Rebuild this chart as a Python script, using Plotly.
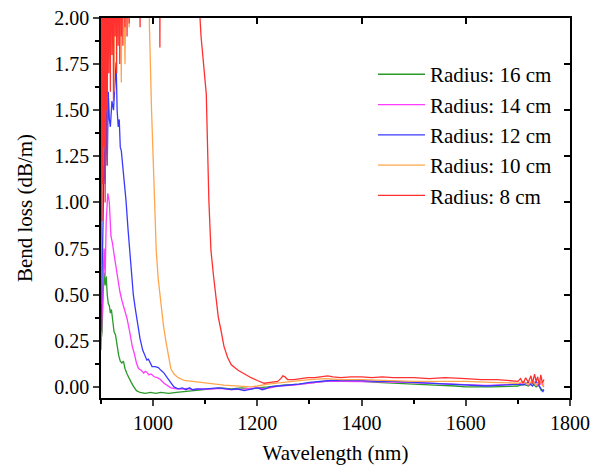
import plotly.graph_objects as go

# ---------------- data ----------------
wl_16 = [900, 902, 904, 906, 908, 910, 912, 914, 916, 918, 920, 922, 925, 928, 931, 934, 937, 940, 943, 946,
         950, 954, 958, 963, 968, 975, 985, 995, 1005, 1015, 1030, 1045, 1060, 1075, 1090, 1110, 1130, 1150,
         1170, 1190, 1200, 1220, 1250, 1280, 1300, 1330, 1360, 1400, 1430, 1460, 1500, 1540, 1580, 1600, 1650,
         1700, 1710, 1720, 1728, 1735, 1740, 1745, 1750]
loss_16 = [0.25, 0.30, 0.50, 0.62, 0.55, 0.60, 0.50, 0.45, 0.44, 0.40, 0.42, 0.38, 0.30, 0.28, 0.22, 0.17, 0.14, 0.13, 0.14, 0.10,
           0.07, 0.045, 0.025, 0.0, -0.02, -0.03, -0.035, -0.03, -0.035, -0.03, -0.035, -0.03, -0.025, -0.02, -0.015, -0.01, -0.005, -0.01,
           -0.005, -0.01, -0.005, 0.0, 0.01, 0.015, 0.02, 0.03, 0.03, 0.03, 0.025, 0.02, 0.015, 0.01, 0.005, 0.0, 0.0,
           0.005, 0.015, 0.005, 0.02, 0.0, 0.01, -0.02, -0.015]

wl_14 = [900, 903, 906, 908, 910, 913, 916, 919, 922, 925, 928, 932, 936, 940, 945, 950, 955, 960, 964, 968,
         972, 977, 982, 985, 988, 992, 996, 1002, 1008, 1014, 1021, 1028, 1034, 1045, 1056, 1065, 1075, 1090,
         1110, 1130, 1150, 1175, 1190, 1200, 1215, 1240, 1270, 1300, 1330, 1360, 1400, 1440, 1480, 1520, 1560,
         1600, 1640, 1680, 1700, 1712, 1722, 1730, 1738, 1745, 1750]
loss_14 = [0.20, 0.50, 0.75, 0.60, 0.90, 1.05, 1.00, 0.82, 0.78, 0.72, 0.66, 0.60, 0.52, 0.47, 0.42, 0.37, 0.30, 0.22, 0.18, 0.13,
           0.10, 0.09, 0.075, 0.085, 0.08, 0.065, 0.07, 0.055, 0.05, 0.04, 0.02, 0.005, -0.005, -0.01, -0.012, -0.008, -0.015, -0.01,
           -0.012, -0.008, -0.015, -0.012, -0.01, -0.005, -0.01, 0.005, 0.01, 0.02, 0.03, 0.03, 0.03, 0.028, 0.025, 0.02, 0.015,
           0.01, 0.008, 0.012, 0.015, 0.025, 0.01, 0.03, 0.005, 0.02, 0.0]

wl_12 = [900, 902, 904, 906, 908, 910, 912, 914, 916, 918, 921, 924, 927, 929, 931, 933, 935, 937, 939, 942,
         945, 948, 952, 955, 958, 962, 966, 971, 975, 980, 985, 988, 991, 994, 998, 1004, 1010, 1015, 1021,
         1027, 1034, 1040, 1048, 1056, 1063, 1070, 1076, 1085, 1095, 1110, 1125, 1140, 1150, 1160, 1175, 1190,
         1200, 1210, 1225, 1240, 1260, 1280, 1300, 1320, 1340, 1360, 1380, 1400, 1430, 1460, 1500, 1540, 1580,
         1600, 1640, 1670, 1700, 1710, 1720, 1728, 1735, 1742, 1748, 1750]
loss_12 = [0.30, 0.55, 0.90, 1.30, 1.10, 1.50, 1.20, 1.60, 1.45, 1.41, 1.55, 1.50, 1.65, 1.76, 1.50, 1.41, 1.45, 1.30, 1.28, 1.20,
           1.10, 1.01, 0.85, 0.75, 0.65, 0.50, 0.42, 0.33, 0.26, 0.20, 0.16, 0.145, 0.15, 0.13, 0.11, 0.11, 0.105, 0.09, 0.075,
           0.05, 0.02, 0.0, -0.01, -0.005, -0.015, -0.005, -0.015, -0.01, -0.012, -0.01, -0.005, -0.01, -0.015, -0.01, -0.02, -0.01,
           -0.005, -0.015, 0.0, 0.005, 0.01, 0.015, 0.025, 0.03, 0.035, 0.035, 0.035, 0.035, 0.03, 0.03, 0.025, 0.02, 0.015,
           0.01, 0.005, 0.01, 0.015, 0.01, 0.025, 0.005, 0.03, 0.0, -0.025, -0.015]

wl_10 = [900, 902, 904, 906, 908, 910, 913, 915, 918, 920, 925, 927, 932, 934, 939, 941, 946, 948, 952, 954,
         956, 990, 993, 997, 1002, 1006, 1010, 1015, 1020, 1025, 1030, 1034, 1040, 1048, 1060, 1073, 1090, 1105,
         1120, 1136, 1160, 1188, 1200, 1220, 1250, 1280, 1300, 1330, 1360, 1400, 1450, 1500, 1550, 1600, 1650,
         1700, 1710, 1720, 1728, 1735, 1742, 1748, 1750]
loss_10 = [0.80, 1.90, 1.20, 3.00, 1.50, 3.00, 1.70, 3.00, 1.80, 3.00, 1.60, 3.00, 1.90, 3.00, 1.65, 3.00, 1.75, 3.00, 3.00, 1.95,
           3.00, 3.00, 1.95, 1.50, 1.01, 0.74, 0.58, 0.45, 0.33, 0.24, 0.16, 0.10, 0.07, 0.05, 0.035, 0.03, 0.025, 0.02,
           0.015, 0.01, 0.005, 0.0, 0.005, 0.015, 0.025, 0.035, 0.04, 0.045, 0.04, 0.04, 0.035, 0.03, 0.03, 0.03, 0.025,
           0.02, 0.03, 0.015, 0.035, 0.01, 0.03, 0.005, 0.02]

wl_8 = [900, 901, 902, 903, 904, 905, 906, 907, 908, 909, 910, 911, 912, 913, 915, 916, 918, 919, 921, 922,
        924, 925, 927, 928, 930, 931, 933, 934, 936, 937, 939, 940, 942, 943, 946, 947, 950, 951, 954, 955,
        974, 975, 976, 1012, 1013, 1014, 1080, 1088, 1092, 1096, 1098, 1102, 1107, 1111, 1116, 1121, 1125, 1130,
        1136, 1143, 1150, 1163, 1175, 1188, 1200, 1213, 1225, 1239, 1245, 1249, 1253, 1258, 1270, 1285, 1297,
        1310, 1325, 1335, 1345, 1360, 1380, 1400, 1420, 1440, 1460, 1480, 1500, 1530, 1560, 1600, 1630, 1660,
        1690, 1700, 1705, 1710, 1715, 1720, 1725, 1728, 1732, 1735, 1738, 1741, 1744, 1747, 1750]
loss_8 = [0.45, 2.50, 0.90, 3.00, 1.10, 3.00, 1.30, 3.00, 1.00, 3.00, 1.50, 3.00, 1.20, 3.00, 1.70, 3.00, 1.60, 3.00, 1.80, 3.00,
          1.55, 3.00, 1.90, 3.00, 1.70, 3.00, 1.85, 3.00, 1.75, 3.00, 1.90, 3.00, 1.85, 3.00, 1.95, 3.00, 1.90, 3.00, 1.97, 3.00,
          3.00, 1.95, 3.00, 3.00, 1.84, 3.00, 3.00, 2.10, 1.90, 1.77, 1.72, 1.59, 1.01, 0.74, 0.60, 0.47, 0.38, 0.31,
          0.22, 0.16, 0.12, 0.09, 0.07, 0.05, 0.035, 0.02, 0.025, 0.03, 0.045, 0.06, 0.055, 0.04, 0.04, 0.045, 0.05,
          0.05, 0.055, 0.06, 0.055, 0.05, 0.055, 0.055, 0.05, 0.055, 0.05, 0.05, 0.05, 0.045, 0.05, 0.045, 0.04, 0.04,
          0.035, 0.03, 0.045, 0.02, 0.05, 0.025, 0.06, 0.02, 0.07, 0.03, 0.055, 0.01, 0.065, 0.02, 0.04]

labels = ["Radius: 16 cm", "Radius: 14 cm", "Radius: 12 cm", "Radius: 10 cm", "Radius: 8 cm"]
colors = ["#2a9a2a", "#ff3cff", "#3a3aff", "#ffa64d", "#ff3030"]
series = [(wl_16, loss_16), (wl_14, loss_14), (wl_12, loss_12), (wl_10, loss_10), (wl_8, loss_8)]

x_ticks = [1000, 1200, 1400, 1600, 1800]
y_ticks = [0.0, 0.25, 0.5, 0.75, 1.0, 1.25, 1.5, 1.75, 2.0]

FONT = "Liberation Serif, Times New Roman, serif"

fig = go.Figure()
for i, ((xs, ys), lab, col) in enumerate(zip(series, labels, colors)):
    fig.add_trace(go.Scatter(x=xs, y=ys, mode="lines", name=lab, legendgroup=f"g{i}",
                             line=dict(color=col, width=1.3)))

# empty trace on the secondary (mirror) axes so their inward ticks are drawn
fig.add_trace(go.Scatter(x=[], y=[], xaxis="x2", yaxis="y2", showlegend=False, hoverinfo="skip"))

fig.update_layout(
    width=604, height=465,
    margin=dict(l=101, r=34, t=18, b=67),
    paper_bgcolor="white", plot_bgcolor="white",
    font=dict(family=FONT, size=20, color="black"),
    showlegend=True,
    legend=dict(x=0.58, y=0.905, xanchor="left", yanchor="top", bgcolor="rgba(0,0,0,0)",
                font=dict(family=FONT, size=21, color="black"), tracegroupgap=4,
                itemwidth=47, traceorder="normal"),
    xaxis=dict(range=[900, 1800], tickvals=x_ticks, ticks="outside", ticklen=6, tickwidth=1.5,
               showline=True, linecolor="black", linewidth=1.5, mirror=True, showgrid=False, zeroline=False,
               tickfont=dict(family=FONT, size=20), automargin=False,
               minor=dict(dtick=100, tick0=900, ticks="outside", ticklen=4, tickwidth=1.5, tickcolor="black"),
               title=dict(text="Wavelength (nm)", font=dict(family=FONT, size=21), standoff=15)),
    yaxis=dict(range=[-0.06, 2.0], tickvals=y_ticks, tickformat=".2f", ticks="outside", ticklen=6, tickwidth=1.5,
               showline=True, linecolor="black", linewidth=1.5, mirror=True, showgrid=False, zeroline=False,
               tickfont=dict(family=FONT, size=20), automargin=False,
               minor=dict(dtick=0.125, tick0=0, ticks="outside", ticklen=4, tickwidth=1.5, tickcolor="black"),
               title=dict(text="Bend loss (dB/m)", font=dict(family=FONT, size=21), standoff=16)),
    xaxis2=dict(range=[900, 1800], tickvals=x_ticks, overlaying="x", side="top", anchor="y",
                ticks="inside", ticklen=6, tickwidth=1.5, tickcolor="black", showticklabels=False,
                showgrid=False, zeroline=False, showline=False, automargin=False),
    yaxis2=dict(range=[-0.06, 2.0], tickvals=y_ticks, overlaying="y", side="right", anchor="x",
                ticks="inside", ticklen=6, tickwidth=1.5, tickcolor="black", showticklabels=False,
                showgrid=False, zeroline=False, showline=False, automargin=False),
)

fig.write_html("out.html")
